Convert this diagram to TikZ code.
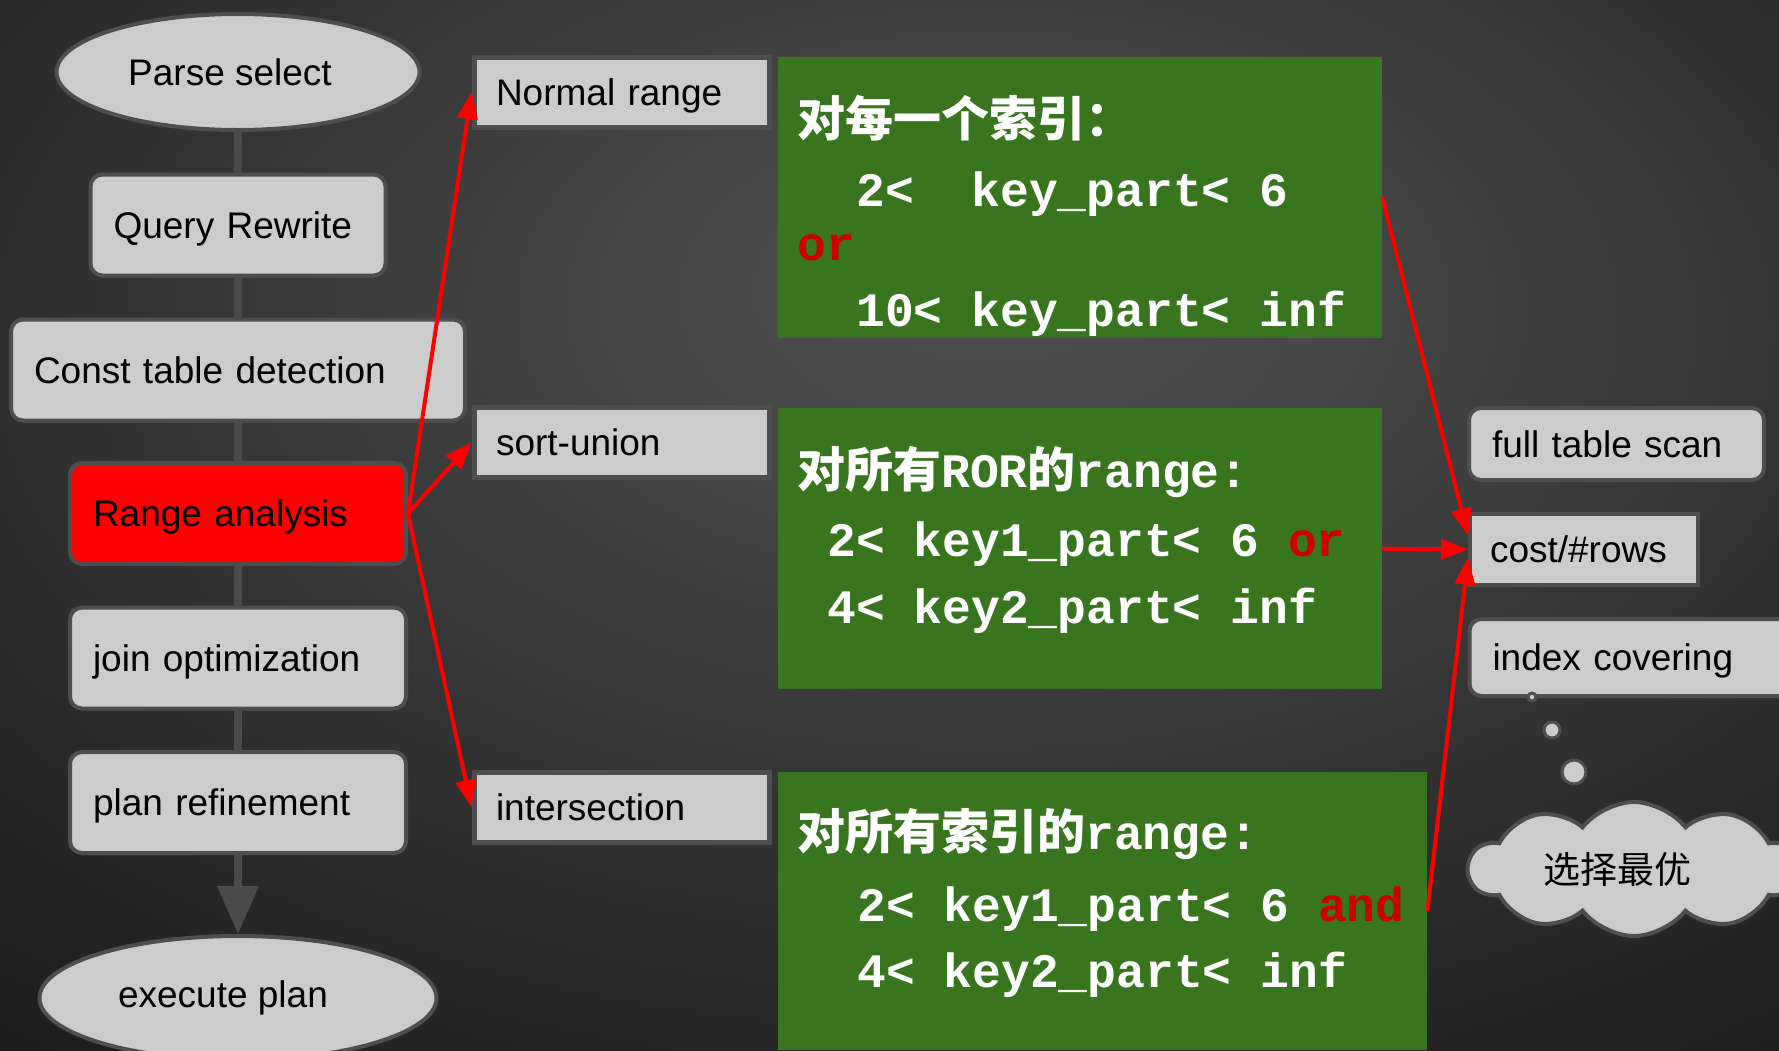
\documentclass[tikz,border=0pt]{standalone}
\usepackage{fontspec}
\setmainfont{Liberation Sans}
\newfontfamily\codefont{Liberation Mono}
\newfontfamily\cjk{Noto Sans CJK SC}
\usetikzlibrary{shapes.geometric,shapes.symbols,arrows.meta}

\definecolor{bgin}{RGB}{78,78,78}
\definecolor{bgmid}{RGB}{42,42,42}
\definecolor{bgout}{RGB}{19,19,19}
\definecolor{bgcorner}{RGB}{12,12,12}
\definecolor{boxfill}{RGB}{204,204,204}
\definecolor{boxline}{RGB}{78,78,78}
\definecolor{flowgray}{RGB}{74,74,74}
\definecolor{panelgreen}{RGB}{57,117,30}
\definecolor{kwred}{RGB}{204,0,0}
\definecolor{hotred}{RGB}{255,0,0}

\pgfdeclareradialshading{bgglow}{\pgfpoint{3bp}{12bp}}{color(0bp)=(bgin); color(8bp)=(bgin!85!bgmid); color(30bp)=(bgmid); color(50bp)=(bgout); color(72bp)=(bgcorner); color(100bp)=(bgcorner)}

\tikzset{
  every node/.style={font=\fontsize{37}{40}\selectfont},
  flowbox/.style={draw=boxline, line width=4pt, fill=boxfill, rounded corners=12pt,
    minimum height=101pt, inner xsep=23pt, align=left, text=black, text depth=0pt},
  terminal/.style={ellipse, draw=boxline, line width=4pt, fill=boxfill, inner sep=0pt},
  tagbox/.style={draw=boxline, line width=5pt, fill=boxfill, minimum width=295pt,
    minimum height=70pt, inner xsep=22pt, text width=251pt, align=left, text depth=0pt},
  panel/.style={fill=panelgreen, inner sep=0pt, anchor=north west},
  codeline/.style={anchor=base west, inner sep=0pt, text=white,
    font=\codefont\bfseries\fontsize{48}{48}\selectfont},
  flowline/.style={draw=flowgray, line width=8pt},
  rangearrow/.style={draw=hotred, line width=4pt, -{Triangle[length=27pt,width=20pt]}},
  puff/.style={circle, draw=boxline, line width=3pt, fill=boxfill, inner sep=0pt},
}

\begin{document}
\begin{tikzpicture}[x=1pt, y=-1pt]
\useasboundingbox (0,0) rectangle (1779,1050);
\clip (0,0) rectangle (1779,1050);
\shade[shading=bgglow] (0,0) rectangle (1779,1050);

% optimizer pipeline
\node[terminal, minimum width=363pt, minimum height=116pt] (ps) at (238,72) {\hspace*{-16pt}Parse select};
\node[flowbox, minimum width=295pt, text width=249pt] (qr) at (238,225) {Query Rewrite};
\node[flowbox, minimum width=454pt, text width=408pt] (ct) at (238,370) {Const table detection};
\node[flowbox, fill=hotred, minimum width=336pt, text width=290pt] (ra) at (238,513.5) {Range analysis};
\node[flowbox, minimum width=336pt, text width=290pt] (jo) at (238,658) {join optimization};
\node[flowbox, minimum width=336pt, text width=290pt] (pr) at (238,802.5) {plan refinement};
\node[terminal, minimum width=397pt, minimum height=124pt] (ep) at (238,998) {\hspace*{-30pt}execute plan};

\draw[flowline] (ps) -- (qr);
\draw[flowline] (qr) -- (ct);
\draw[flowline] (ct) -- (ra);
\draw[flowline] (ra) -- (jo);
\draw[flowline] (jo) -- (pr);
\draw[flowline, -{Triangle[length=48pt,width=40pt]}] (pr) -- (ep);

% access methods
\node[tagbox] (nr) at (621.5,92) {Normal range};
\node[tagbox] (su) at (621.5,442.5) {sort-union};
\node[tagbox] (is) at (621.5,807) {intersection};

% range conditions
\node[panel, minimum width=604pt, minimum height=281pt] (g1) at (778,57) {};
\node[panel, minimum width=604pt, minimum height=281pt] (g2) at (778,408) {};
\node[panel, minimum width=649pt, minimum height=278pt] (g3) at (778,772) {};

\node[codeline] (g1h) at (797,136) {\cjk\bfseries 对每一个索引：};
\node[codeline] (g1a) at (856,206) {2<\ \ key\_part< 6};
\node[codeline, text=kwred] (g1b) at (797,260) {or};
\node[codeline] (g1c) at (856,326) {10< key\_part< inf};

\node[codeline] (g2h) at (797,487) {{\cjk\bfseries 对所有}ROR{\cjk\bfseries 的}range:};
\node[codeline] (g2a) at (827,556) {2< key1\_part< 6 \textcolor{kwred}{or}};
\node[codeline] (g2b) at (827,623) {4< key2\_part< inf};

\node[codeline] (g3h) at (797,849) {{\cjk\bfseries 对所有索引的}range:};
\node[codeline] (g3a) at (857,921) {2< key1\_part< 6 \textcolor{kwred}{and}};
\node[codeline] (g3b) at (857,987) {4< key2\_part< inf};

% cost model
\node[flowbox, minimum width=295pt, minimum height=72pt, text width=249pt] (fts) at (1616.5,444) {full table scan};
\node[draw=boxline, line width=4pt, fill=boxfill, minimum width=228pt, minimum height=71pt,
  inner xsep=20pt, text width=188pt, align=left, text depth=0pt] (cost) at (1584,549.5) {cost/\#rows};
\node[flowbox, minimum width=325pt, minimum height=77pt, text width=279pt] (ic) at (1632,657.5) {index covering};

\node[puff, minimum size=8pt] (p1) at (1532,697) {};
\node[puff, minimum size=16pt] (p2) at (1552,730) {};
\node[puff, minimum size=24pt] (p3) at (1574,772) {};
\node[cloud, cloud puffs=10, cloud puff arc=105, aspect=2.5, draw=boxline, line width=4pt, fill=boxfill,
  minimum width=330pt, minimum height=134pt, font=\cjk\fontsize{37}{40}\selectfont] (best) at (1634,869) {\hspace*{-34pt}选择最优};

% red connectors
\draw[rangearrow] (ra.east) -- (nr.west);
\draw[rangearrow] (ra.east) -- (su.west);
\draw[rangearrow] (ra.east) -- (is.west);
\draw[rangearrow] (g1.east) -- ([yshift=14pt]cost.west);
\draw[rangearrow] (g2.east) -- (cost.west);
\draw[rangearrow] (g3.east) -- ([yshift=-8pt]cost.west);
\end{tikzpicture}
\end{document}
